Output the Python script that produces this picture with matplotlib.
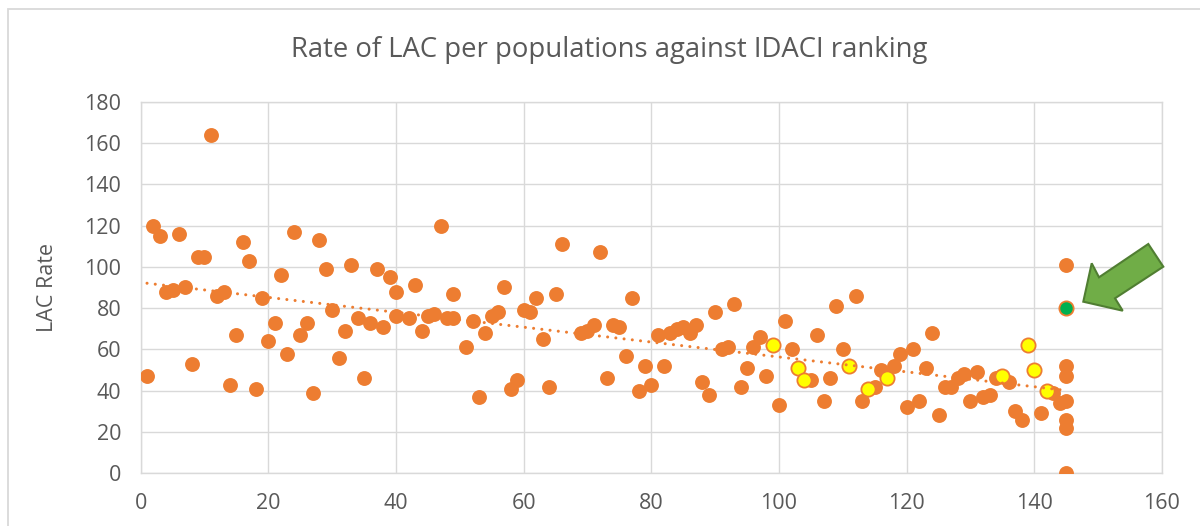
import numpy as np
import matplotlib.pyplot as plt
import matplotlib.patches as mpatches

# rank (IDACI) vs LAC rate
rank = [1, 2, 3, 4, 5, 6, 7, 8, 9, 10, 11, 12, 13, 14, 15, 16, 17, 18, 19, 20,
        21, 22, 23, 24, 25, 26, 27, 28, 29, 30, 31, 32, 33, 34, 35, 36, 37, 38, 39, 40,
        40, 42, 43, 44, 45, 46, 47, 48, 49, 49, 51, 52, 53, 54, 55, 56, 57, 58, 59, 60,
        61, 62, 63, 64, 65, 66, 69, 70, 71, 72, 73, 74, 75, 76, 77, 78, 79, 80, 81, 82,
        83, 84, 85, 86, 87, 88, 89, 90, 91, 92, 93, 94, 95, 96, 97, 98, 100, 101, 102, 105,
        106, 107, 108, 109, 110, 112, 113, 115, 116, 118, 119, 120, 121, 122, 123, 124, 125, 126, 127, 128,
        129, 130, 131, 132, 133, 134, 136, 137, 138, 141, 143, 144, 145, 145, 145, 145, 145, 145, 145]
rate = [47, 120, 115, 88, 89, 116, 90, 53, 105, 105, 164, 86, 88, 43, 67, 112, 103, 41, 85, 64,
        73, 96, 58, 117, 67, 73, 39, 113, 99, 79, 56, 69, 101, 75, 46, 73, 99, 71, 95, 88,
        76, 75, 91, 69, 76, 77, 120, 75, 87, 75, 61, 74, 37, 68, 76, 78, 90, 41, 45, 79,
        78, 85, 65, 42, 87, 111, 68, 69, 72, 107, 46, 72, 71, 57, 85, 40, 52, 43, 67, 52,
        68, 70, 71, 68, 72, 44, 38, 78, 60, 61, 82, 42, 51, 61, 66, 47, 33, 74, 60, 45,
        67, 35, 46, 81, 60, 86, 35, 42, 50, 52, 58, 32, 60, 35, 51, 68, 28, 42, 42, 46,
        48, 35, 49, 37, 38, 46, 44, 30, 26, 29, 39, 34, 101, 52, 47, 35, 26, 22, 0]

# highlighted authorities
hl_rank = [99, 103, 104, 111, 114, 117, 135, 139, 140, 142]
hl_rate = [62, 51, 45, 52, 41, 46, 47, 62, 50, 40]

# the one pointed at
sel_rank = [145]
sel_rate = [80]

orange = '#ED7D31'
grey_txt = '#595959'
grid_c = '#D9D9D9'

plt.rcParams['font.family'] = ['Open Sans', 'DejaVu Sans']

fig = plt.figure(figsize=(12, 5.26), dpi=100)
ax = fig.add_axes([0.1172, 0.1002, 0.8511, 0.7065])

ax.scatter(rank, rate, s=115, color=orange, linewidths=0, zorder=3)
ax.scatter(hl_rank, hl_rate, s=105, color='#FFFF00', edgecolors=orange, linewidths=1.3, zorder=4)
ax.scatter(sel_rank, sel_rate, s=105, color='#00B050', edgecolors=orange, linewidths=1.3, zorder=5)

# linear trendline over everything
all_x = np.array(rank + hl_rank + sel_rank, dtype=float)
all_y = np.array(rate + hl_rate + sel_rate, dtype=float)
m, c = np.polyfit(all_x, all_y, 1)
tx = np.array([all_x.min(), all_x.max()])
ax.plot(tx, m * tx + c, color=orange, lw=2.2, linestyle=(0, (0.01, 2.7)),
        dash_capstyle='round', zorder=6)

ax.set_xlim(0, 160)
ax.set_ylim(0, 180)
ax.set_xticks(range(0, 161, 20))
ax.set_yticks(range(0, 181, 20))
ax.grid(True, color=grid_c, lw=1)
ax.set_axisbelow(True)
for sp in ax.spines.values():
    sp.set_color(grid_c)
    sp.set_linewidth(1)
ax.tick_params(length=0, labelsize=15.5, labelcolor=grey_txt, pad=14)

ax.set_ylabel('LAC Rate', fontsize=15.5, color=grey_txt)
ax.yaxis.set_label_coords(-0.081, 0.5)

fig.text(0.508, 0.905, 'Rate of LAC per populations against IDACI ranking',
         ha='center', va='center', fontsize=19.8, color=grey_txt)

# green block arrow, in figure pixels
W, H = 1200.0, 526.0
pts = [(1083.3, 301.7), (1091.7, 263.3), (1099, 277.3), (1148.3, 244),
       (1163.3, 266.7), (1115, 298.3), (1122.7, 310.7)]
pts = [(px / W, 1 - py / H) for px, py in pts]
arrow = mpatches.Polygon(pts, closed=True, facecolor='#70AD47', edgecolor='#507E32',
                         lw=1.5, transform=fig.transFigure, zorder=10)
fig.patches.append(arrow)

# chart frame (only top and left edges fall inside the crop)
frame = mpatches.Rectangle((8 / W, -0.05), 1.1, 1 - 9 / H + 0.05, fill=False,
                           edgecolor=grid_c, lw=1.3, transform=fig.transFigure)
fig.patches.append(frame)

fig.savefig('out.png', dpi=100)
